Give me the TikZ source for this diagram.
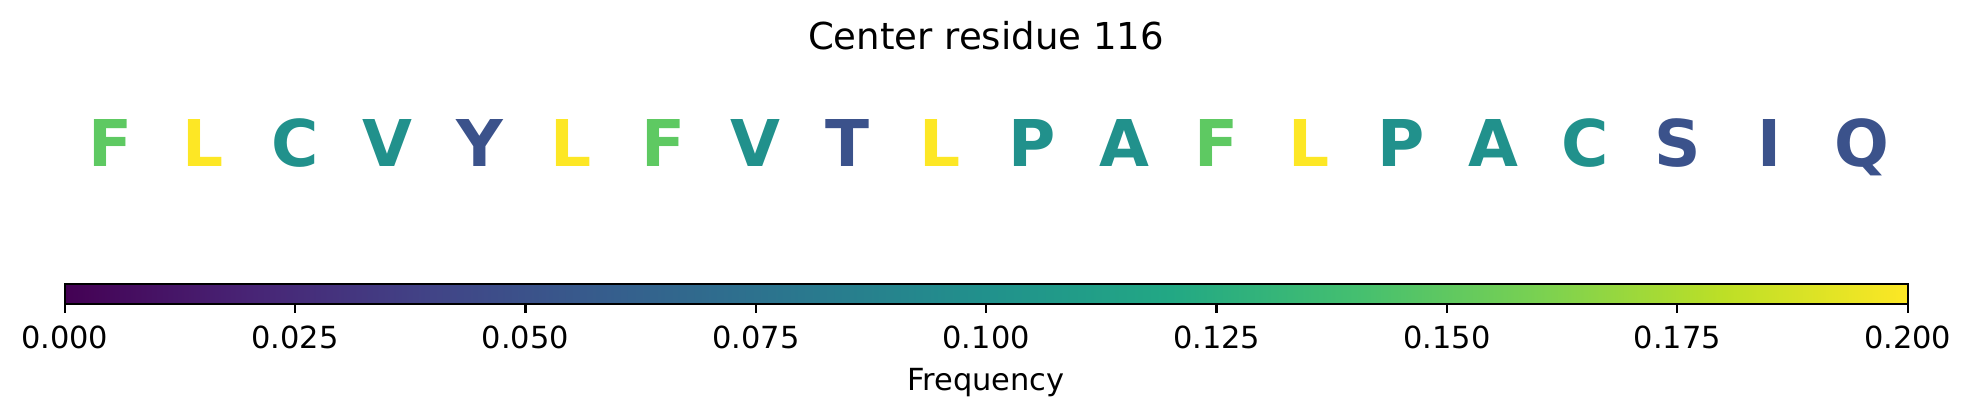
\documentclass[tikz,border=0pt]{standalone}
\usepackage{fontspec}
\setmainfont{DejaVu Sans}
\usepackage{tikz}
\usetikzlibrary{positioning}
\definecolor{vblue}{HTML}{3B528B}
\definecolor{vteal}{HTML}{21918C}
\definecolor{vgreen}{HTML}{5EC962}
\definecolor{vyellow}{HTML}{FDE725}
% viridis, 0.000 -- 0.200
\pgfdeclarehorizontalshading{viridis}{100bp}{rgb(0bp)=(0.267,0.004,0.329); rgb(25bp)=(0.267,0.004,0.329);
  rgb(30bp)=(0.282,0.141,0.459); rgb(35bp)=(0.255,0.267,0.529); rgb(40bp)=(0.208,0.373,0.553);
  rgb(45bp)=(0.165,0.471,0.557); rgb(50bp)=(0.129,0.569,0.549); rgb(55bp)=(0.133,0.659,0.518);
  rgb(60bp)=(0.267,0.749,0.439); rgb(65bp)=(0.478,0.820,0.318); rgb(70bp)=(0.741,0.875,0.149);
  rgb(75bp)=(0.992,0.906,0.145); rgb(100bp)=(0.992,0.906,0.145)}
\tikzset{
    residue/.style={font=\fontsize{23.3}{28}\selectfont\bfseries, inner sep=0pt, anchor=base}, % 残基字母
    ticklabel/.style={font=\fontsize{11}{13}\selectfont, inner sep=0pt, anchor=base} % 刻度文字
}
\begin{document}
\begin{tikzpicture}[x=0.36135pt, y=-0.36135pt]
    \def\xl{64.7} \def\xr{1907.7} \def\yt{284.3} \def\yb{304.3}
    \useasboundingbox (0,0) rectangle (1973,416);

    \node[ticklabel, font=\fontsize{13.4}{16}\selectfont] (title) at (986,49.3) {Center residue 116};

    \foreach \res/\col [count=\i from 0] in {F/vgreen, L/vyellow, C/vteal, V/vteal, Y/vblue, L/vyellow, F/vgreen, V/vteal, T/vblue, L/vyellow,
        P/vteal, A/vteal, F/vgreen, L/vyellow, P/vteal, A/vteal, C/vteal, S/vblue, I/vblue, Q/vblue} {
        \node[residue, text=\col] (res\i) at ({\xl+(\i+0.5)*92.15}, 166.7) {\res};
    }

    \shade[shading=viridis] (\xl,\yt) rectangle (\xr,\yb);
    \draw[line width=0.8pt] (\xl,\yt) rectangle (\xr,\yb);
    \foreach \v [count=\k from 0] in {0.000, 0.025, 0.050, 0.075, 0.100, 0.125, 0.150, 0.175, 0.200} {
        \coordinate (tick\k) at ({\xl+\k*230.375}, \yb);
        \draw[line width=0.8pt] (tick\k) -- ++(0,9);
        \node[ticklabel] (tl\k) at ({\xl+\k*230.375}, 348.3) {\v};
    }
    \node[ticklabel] (cblabel) at (986,390.7) {Frequency};
\end{tikzpicture}
\end{document}
